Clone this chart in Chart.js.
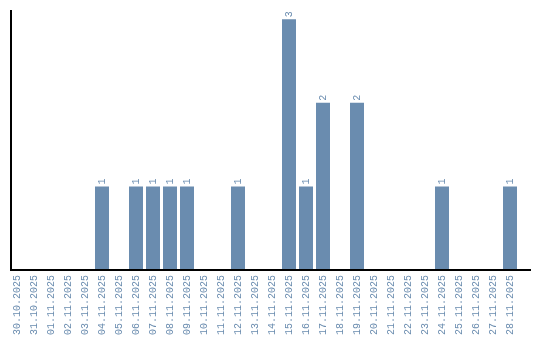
<!DOCTYPE html>
<html>
<head>
<meta charset="utf-8">
<script src="https://cdn.jsdelivr.net/npm/chart.js@4/dist/chart.umd.min.js"></script>
<style>
html,body{margin:0;padding:0;background:#fff;}
canvas{display:block;}
</style>
</head>
<body>
<canvas id="c" width="540" height="340"></canvas>
<script>
const categories = ["30.10.2025","31.10.2025","01.11.2025","02.11.2025","03.11.2025","04.11.2025","05.11.2025","06.11.2025","07.11.2025","08.11.2025","09.11.2025","10.11.2025","11.11.2025","12.11.2025","13.11.2025","14.11.2025","15.11.2025","16.11.2025","17.11.2025","18.11.2025","19.11.2025","20.11.2025","21.11.2025","22.11.2025","23.11.2025","24.11.2025","25.11.2025","26.11.2025","27.11.2025","28.11.2025"];
const counts = [0,0,0,0,0,1,0,1,1,1,1,0,0,1,0,0,3,1,2,0,2,0,0,0,0,1,0,0,0,1];

const BAR_COLOR = '#6a8caf';
const FONT = '"Liberation Mono", "Courier New", monospace';

const axisAndLabels = {
  id: 'axisAndLabels',
  afterDatasetsDraw(chart) {
    const ctx = chart.ctx;
    const area = chart.chartArea;
    // value labels
    const meta = chart.getDatasetMeta(0);
    ctx.save();
    ctx.fillStyle = BAR_COLOR;
    ctx.font = '10px ' + FONT;
    ctx.textAlign = 'left';
    ctx.textBaseline = 'middle';
    meta.data.forEach((bar, i) => {
      const v = counts[i];
      if (!v) return;
      ctx.save();
      ctx.translate(bar.x, bar.y - 2);
      ctx.rotate(-Math.PI / 2);
      ctx.fillText(String(v), 0, 0);
      ctx.restore();
    });
    ctx.restore();
    // axis lines
    ctx.save();
    ctx.strokeStyle = '#000';
    ctx.lineWidth = 2;
    ctx.beginPath();
    const x0 = area.left + 2.5;
    ctx.moveTo(x0, area.top);
    ctx.lineTo(x0, area.bottom);
    ctx.moveTo(x0 - 1, area.bottom);
    ctx.lineTo(area.right + 12.5, area.bottom);
    ctx.stroke();
    ctx.restore();
  }
};

new Chart(document.getElementById('c'), {
  type: 'bar',
  data: {
    labels: categories,
    datasets: [{
      data: counts,
      backgroundColor: BAR_COLOR,
      borderWidth: 0,
      categoryPercentage: 1,
      barPercentage: 14/17
    }]
  },
  options: {
    responsive: false,
    animation: false,
    devicePixelRatio: 1,
    layout: { padding: { top: 10, left: 8.5, right: 21.5, bottom: 0 } },
    plugins: { legend: { display: false }, tooltip: { enabled: false } },
    scales: {
      x: {
        grid: { display: false, drawTicks: false },
        border: { display: false },
        ticks: {
          color: BAR_COLOR,
          font: { family: FONT, size: 10 },
          minRotation: 90,
          maxRotation: 90,
          autoSkip: false,
          padding: 5
        }
      },
      y: {
        display: false,
        min: 0,
        max: 3.11
      }
    }
  },
  plugins: [axisAndLabels]
});
</script>
</body>
</html>
